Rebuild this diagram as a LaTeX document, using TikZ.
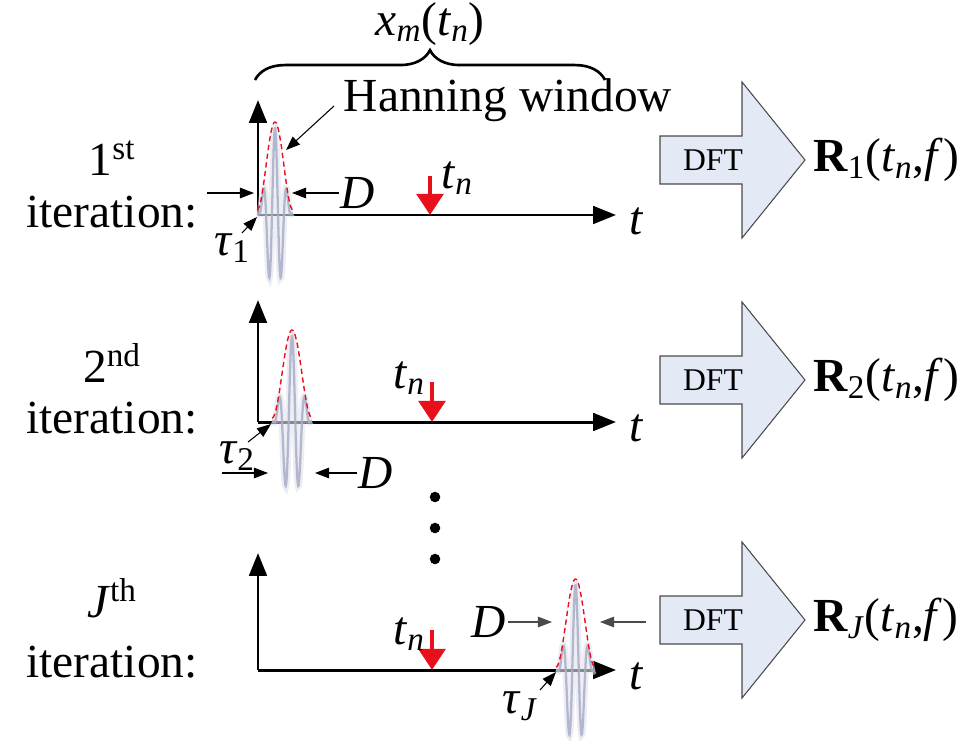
\documentclass[tikz,border=0pt]{standalone}
\usepackage{fontspec}
\setmainfont{Liberation Serif}
\usepackage{xcolor}
\usetikzlibrary{arrows.meta,positioning,decorations.pathreplacing,calc}
\definecolor{winred}{HTML}{E8101A}
\definecolor{wavegrey}{HTML}{A9AFC8}
\definecolor{dftfill}{HTML}{E3EAF6}
\definecolor{dftedge}{HTML}{4A4A4A}
\newcommand{\tn}{\textit{t}\textsubscript{\textit{n}}}
\tikzset{
  biglabel/.style={font=\fontsize{27}{32}\selectfont, inner sep=1pt},
  axisline/.style={-{Triangle[length=13pt, width=10pt]}, line width=1.7pt},
  thinarrow/.style={-{Triangle[length=8pt, width=6pt]}, line width=0.6pt, color=#1},
  thinarrow/.default=black,
  redmark/.style={-{Triangle[length=12pt, width=15pt]}, line width=2.6pt, winred},
  hannwin/.style={winred, line width=0.8pt, dash pattern=on 3pt off 2pt},
  wavesig/.style={wavegrey, line width=1.3pt, opacity=0.85},
  waveblur/.style={wavegrey!35, line width=4pt, opacity=0.6},
  dftarrow/.style={draw=dftedge, fill=dftfill, line width=0.6pt},
  dftlbl/.style={font=\fontsize{18}{22}\selectfont, inner sep=1pt},
  xbrace/.style={decorate, decoration={brace, amplitude=17pt}, line width=1.5pt},
  dotmark/.style={circle, fill=black, inner sep=0pt, minimum size=6pt}
}
\begin{document}
\begin{tikzpicture}[x=0.02cm, y=-0.02cm]
  \useasboundingbox (0,0) rectangle (962,740);
  % time axes of the three iterations
  \foreach \n/\oy/\ay in {1/215/100, 2/422/300, 3/670/553} {
    \coordinate (o\n) at (258,\oy);
    \coordinate (ytip\n) at (258,\ay);
    \coordinate (xtip\n) at (616,\oy);
    \draw[axisline] (o\n) -- (ytip\n);
    \draw[axisline] (o\n) -- (xtip\n);
    \node[biglabel] (t\n) at (637,\oy+6) {\textit{t}};
  }
  % windowed signal pieces (start, width, axis)
  \foreach \n/\xa/\w/\base in {1/257/36/210, 2/272/40/418, 3/556/39/667} {
    \draw[waveblur] plot[domain=0:1, samples=120]
      ({\xa+\w*\x}, {\base+3-85*sin(180*\x)*sin(180*\x)*cos(1080*(\x-0.5))});
    \draw[wavesig] plot[domain=0:1, samples=120]
      ({\xa+\w*\x}, {\base+3-85*sin(180*\x)*sin(180*\x)*cos(1080*(\x-0.5))});
    \draw[hannwin] plot[domain=0:1, samples=60]
      ({\xa+\w*\x}, {\base-88*sin(180*\x)*sin(180*\x)});
  }
  % iteration labels
  \node[biglabel] (it1a) at (112,158) {1\textsuperscript{st}};
  \node[biglabel] (it1b) at (112,212) {iteration:};
  \node[biglabel] (it2a) at (112,363) {2\textsuperscript{nd}};
  \node[biglabel] (it2b) at (112,418) {iteration:};
  \node[biglabel] (it3a) at (112,598) {\textit{J}\textsuperscript{th}};
  \node[biglabel] (it3b) at (112,662) {iteration:};
  % brace over the record
  \coordinate (brl) at (255,80);
  \coordinate (brr) at (605,80);
  \draw[xbrace] (brl) -- (brr);
  \node[biglabel] (xm) at (430,24) {\textit{x}\textsubscript{\textit{m}}(\tn)};
  % Hanning window label
  \node[biglabel] (hann) at (508,100) {Hanning window};
  \coordinate (hanntail) at (334,106);
  \coordinate (hannhead) at (286,150);
  \draw[thinarrow] (hanntail) -- (hannhead);
  % t_n markers
  \coordinate (m1a) at (430,176); \coordinate (m1b) at (430,215);
  \coordinate (m2a) at (432,382); \coordinate (m2b) at (432,422);
  \coordinate (m3a) at (432,630); \coordinate (m3b) at (432,670);
  \foreach \n in {1,2,3} \draw[redmark] (m\n a) -- (m\n b);
  \node[biglabel] (tn1) at (457,178) {\tn};
  \node[biglabel] (tn2) at (409,378) {\tn};
  \node[biglabel] (tn3) at (409,634) {\tn};
  % widths D and delays tau, 1st iteration
  \node[biglabel] (d1) at (358,193) {\textit{D}};
  \coordinate (d1l) at (207,193); \coordinate (d1lh) at (254,193);
  \coordinate (d1rh) at (292,193);
  \draw[thinarrow] (d1l) -- (d1lh);
  \draw[thinarrow] (d1.west) -- (d1rh);
  \node[biglabel] (tau1) at (232,248) {\textit{τ}\textsubscript{1}};
  \coordinate (tau1t) at (242,233);
  \coordinate (tau1h) at (257,217);
  \draw[thinarrow] (tau1t) -- (tau1h);
  % 2nd iteration
  \node[biglabel] (d2) at (376,473) {\textit{D}};
  \coordinate (d2l) at (222,473); \coordinate (d2lh) at (268,473);
  \coordinate (d2rh) at (315,473);
  \draw[thinarrow] (d2l) -- (d2lh);
  \draw[thinarrow] (d2.west) -- (d2rh);
  \node[biglabel] (tau2) at (237,456) {\textit{τ}\textsubscript{2}};
  \coordinate (tau2t) at (248,442);
  \coordinate (tau2h) at (271,424);
  \draw[thinarrow] (tau2t) -- (tau2h);
  % J-th iteration
  \node[biglabel] (d3) at (489,622) {\textit{D}};
  \coordinate (d3lh) at (552,622);
  \coordinate (d3r) at (646,622); \coordinate (d3rh) at (600,622);
  \draw[thinarrow=dftedge] (d3.east) -- (d3lh);
  \draw[thinarrow=dftedge] (d3r) -- (d3rh);
  \node[biglabel] (tau3) at (520,706) {\textit{τ}\textsubscript{\textit{J}}};
  \coordinate (tau3t) at (540,690);
  \coordinate (tau3h) at (556,672);
  \draw[thinarrow] (tau3t) -- (tau3h);
  % dots between iterations
  \foreach \y [count=\k] in {497,528,559}
    \node[dotmark] (dot\k) at (435,\y) {};
  % DFT block arrows and results
  \foreach \n/\cy/\rs in {1/160/1, 2/380/2, 3/620/\textit{J}} {
    \draw[dftarrow] (660,\cy-24) -- (742,\cy-24) -- (742,\cy-78) -- (805,\cy)
      -- (742,\cy+78) -- (742,\cy+24) -- (660,\cy+24) -- cycle;
    \node[dftlbl] (dft\n) at (713,\cy) {DFT};
    \node[biglabel, anchor=west] (R\n) at (811,\cy) {\textbf{R}\textsubscript{\rs}(\tn,\textit{f})};
  }
\end{tikzpicture}
\end{document}
